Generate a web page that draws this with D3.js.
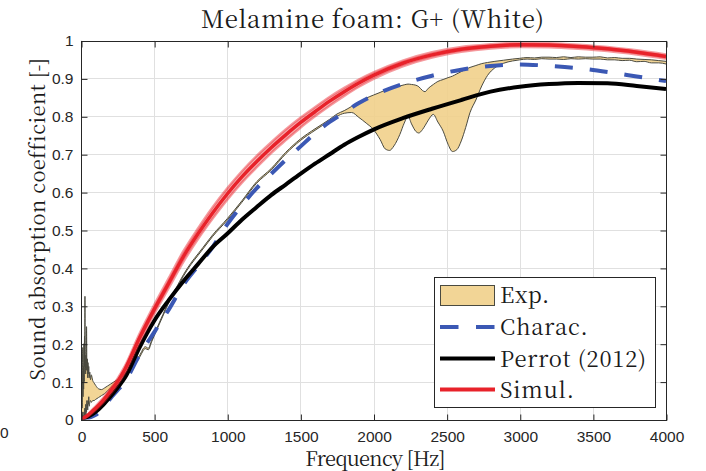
<!DOCTYPE html>
<html>
<head>
<meta charset="utf-8">
<script src="https://cdn.jsdelivr.net/npm/d3@7"></script>
<style>
  html, body { margin: 0; padding: 0; background: #fff; }
  svg { display: block; }
</style>
</head>
<body>
<svg id="chart" width="706" height="471"></svg>
<script>
// ---- Tick values and labels ----
const xTicks = [0, 500, 1000, 1500, 2000, 2500, 3000, 3500, 4000];
const xTickLabels = ["0", "500", "1000", "1500", "2000", "2500", "3000", "3500", "4000"];
const yTicks = [0, 0.1, 0.2, 0.3, 0.4, 0.5, 0.6, 0.7, 0.8, 0.9, 1];
const yTickLabels = ["0", "0.1", "0.2", "0.3", "0.4", "0.5", "0.6", "0.7", "0.8", "0.9", "1"];

// ---- Model curves (frequency grid in Hz) ----
const modelFreq = [0, 50, 100, 150, 200, 250, 300, 400, 500, 600, 700, 800, 900, 1000, 1100, 1200, 1300, 1400, 1500, 1600, 1700, 1800, 1900, 2000, 2200, 2400, 2600, 2800, 3000, 3200, 3400, 3600, 3800, 4000];
const charac = [0, 0.004, 0.012, 0.03, 0.055, 0.077, 0.1, 0.17, 0.23, 0.29, 0.355, 0.405, 0.455, 0.515, 0.565, 0.61, 0.648, 0.685, 0.72, 0.755, 0.785, 0.81, 0.835, 0.855, 0.885, 0.907, 0.923, 0.933, 0.937, 0.933, 0.927, 0.917, 0.905, 0.893];
const perrot = [0, 0.008, 0.02, 0.038, 0.06, 0.084, 0.11, 0.19, 0.26, 0.315, 0.365, 0.41, 0.455, 0.49, 0.527, 0.56, 0.592, 0.62, 0.648, 0.675, 0.7, 0.725, 0.746, 0.765, 0.795, 0.82, 0.843, 0.865, 0.878, 0.885, 0.888, 0.887, 0.88, 0.872];
const simulMid = [0, 0.012, 0.03, 0.05, 0.074, 0.1, 0.132, 0.215, 0.29, 0.36, 0.43, 0.49, 0.545, 0.595, 0.64, 0.68, 0.717, 0.751, 0.783, 0.812, 0.84, 0.865, 0.888, 0.908, 0.94, 0.962, 0.977, 0.985, 0.989, 0.988, 0.984, 0.978, 0.969, 0.958];
const simulLow = [0, 0.009, 0.025, 0.044, 0.067, 0.092, 0.123, 0.204, 0.278, 0.347, 0.416, 0.476, 0.53, 0.58, 0.625, 0.665, 0.703, 0.737, 0.77, 0.8, 0.828, 0.854, 0.878, 0.899, 0.932, 0.955, 0.97, 0.979, 0.983, 0.982, 0.978, 0.972, 0.963, 0.952];
const simulHigh = [0, 0.015, 0.035, 0.056, 0.081, 0.108, 0.141, 0.226, 0.302, 0.373, 0.444, 0.504, 0.56, 0.61, 0.655, 0.695, 0.731, 0.765, 0.796, 0.824, 0.851, 0.875, 0.897, 0.916, 0.947, 0.969, 0.983, 0.99, 0.994, 0.993, 0.989, 0.983, 0.974, 0.963];

// ---- Measured envelope (Exp.) ----
const expFreq = [0, 4, 6, 8, 10, 12, 14, 16, 18, 20, 22, 24, 26, 27, 28, 30, 32, 34, 36, 38, 40, 42, 44, 46, 48, 50, 53, 56, 60, 65, 70, 80, 90, 100, 120, 140, 160, 180, 200, 220, 240, 260, 280, 300, 350, 400, 440, 460, 483, 520, 560, 600, 650, 700, 750, 800, 834, 900, 1000, 1100, 1200, 1300, 1400, 1500, 1600, 1700, 1750, 1800, 1850, 1900, 1950, 2000, 2045, 2080, 2110, 2140, 2180, 2210, 2236, 2260, 2290, 2310, 2335, 2352, 2375, 2409, 2440, 2476, 2510, 2540, 2570, 2600, 2630, 2660, 2700, 2740, 2780, 2830, 2890, 2950, 3000, 3050, 3100, 3150, 3200, 3250, 3300, 3350, 3400, 3450, 3500, 3550, 3600, 3650, 3700, 3750, 3800, 3850, 3900, 3950, 4000];
const expHigh = [0, 0.04, 0.12, 0.03, 0.15, 0.19, 0.06, 0.14, 0.08, 0.2, 0.1, 0.22, 0.14, 0.325, 0.2, 0.16, 0.12, 0.17, 0.13, 0.245, 0.15, 0.13, 0.16, 0.11, 0.15, 0.12, 0.14, 0.11, 0.125, 0.105, 0.118, 0.103, 0.096, 0.09, 0.081, 0.079, 0.083, 0.088, 0.093, 0.098, 0.103, 0.108, 0.114, 0.121, 0.142, 0.169, 0.192, 0.188, 0.209, 0.242, 0.277, 0.312, 0.347, 0.382, 0.412, 0.437, 0.454, 0.487, 0.53, 0.577, 0.627, 0.662, 0.705, 0.74, 0.767, 0.792, 0.806, 0.815, 0.826, 0.838, 0.848, 0.856, 0.863, 0.869, 0.873, 0.876, 0.88, 0.883, 0.885, 0.884, 0.882, 0.878, 0.868, 0.865, 0.874, 0.884, 0.892, 0.897, 0.902, 0.906, 0.912, 0.918, 0.924, 0.929, 0.934, 0.939, 0.942, 0.945, 0.948, 0.951, 0.953, 0.955, 0.954, 0.956, 0.956, 0.955, 0.957, 0.955, 0.957, 0.956, 0.956, 0.957, 0.954, 0.955, 0.953, 0.953, 0.951, 0.950, 0.949, 0.947, 0.945];
const expLow = [0, 0, 0.01, 0, 0.02, 0.005, 0, 0.01, 0, 0.02, 0, 0.01, 0.03, 0.005, 0.01, 0.02, 0.04, 0.01, 0.03, 0.02, 0.05, 0.03, 0.04, 0.025, 0.05, 0.04, 0.06, 0.035, 0.045, 0.05, 0.045, 0.05, 0.05, 0.053, 0.058, 0.063, 0.068, 0.075, 0.082, 0.09, 0.097, 0.104, 0.111, 0.118, 0.138, 0.164, 0.187, 0.184, 0.205, 0.238, 0.273, 0.308, 0.343, 0.378, 0.408, 0.433, 0.45, 0.483, 0.526, 0.573, 0.623, 0.658, 0.701, 0.736, 0.763, 0.788, 0.8, 0.808, 0.81, 0.797, 0.782, 0.765, 0.739, 0.714, 0.71, 0.722, 0.752, 0.782, 0.8, 0.78, 0.76, 0.756, 0.765, 0.775, 0.79, 0.805, 0.785, 0.761, 0.726, 0.707, 0.712, 0.735, 0.77, 0.81, 0.843, 0.88, 0.908, 0.928, 0.94, 0.946, 0.949, 0.951, 0.95, 0.952, 0.951, 0.951, 0.95, 0.952, 0.951, 0.952, 0.951, 0.951, 0.949, 0.949, 0.947, 0.948, 0.944, 0.945, 0.941, 0.941, 0.938];

// ---- Text ----
const titleText = "Melamine foam: G+ (White)";
const xLabelText = "Frequency [Hz]";
const yLabelText = "Sound absorption coefficient [-]";
const legendLabels = ["Exp.", "Charac.", "Perrot (2012)", "Simul."];

// ---- Styles ----
const serif = '"Noto Serif CJK SC", "Liberation Serif", serif';
const sans = '"Liberation Sans", Arial, sans-serif';
const goldFill = "#f0cf88";
const expEdge = "#4a4a40";
const blue = "#3b58b4";
const red = "#e8222a";

const svg = d3.select("#chart");
const x = d3.scaleLinear().domain([0, 4000]).range([81, 666]);
const y = d3.scaleLinear().domain([0, 1]).range([419.5, 40.5]);

// stretch letter spacing so a label spans a given width
function fitWidth(sel, target) {
  const node = sel.node();
  const n = sel.text().length;
  const w = node.getComputedTextLength();
  sel.style("letter-spacing", ((target - w) / Math.max(1, n - 1)).toFixed(2) + "px");
}

// grid
const grid = svg.append("g").attr("stroke", "#e0e0e0").attr("stroke-width", 1);
grid.selectAll("line.gx").data(xTicks).join("line")
  .attr("x1", d => Math.round(x(d)) + 0.5).attr("x2", d => Math.round(x(d)) + 0.5)
  .attr("y1", y(0)).attr("y2", y(1));
grid.selectAll("line.gy").data(yTicks).join("line")
  .attr("y1", d => Math.round(y(d)) + 0.5).attr("y2", d => Math.round(y(d)) + 0.5)
  .attr("x1", x(0)).attr("x2", x(4000));

const plot = svg.append("g");
plot.append("clipPath").attr("id", "clip").append("rect")
  .attr("x", x(0)).attr("y", y(1) - 4).attr("width", x(4000) - x(0)).attr("height", y(0) - y(1) + 4);
const layer = plot.append("g").attr("clip-path", "url(#clip)");

// Exp. envelope
const expIdx = d3.range(expFreq.length);
const expArea = d3.area().curve(d3.curveMonotoneX)
  .x(i => x(expFreq[i])).y0(i => y(expLow[i])).y1(i => y(expHigh[i]));
layer.append("path").datum(expIdx).attr("d", expArea)
  .attr("fill", goldFill).attr("fill-opacity", 0.88).attr("stroke", "none");
const expLineHi = d3.line().curve(d3.curveMonotoneX).x(i => x(expFreq[i])).y(i => y(expHigh[i]));
const expLineLo = d3.line().curve(d3.curveMonotoneX).x(i => x(expFreq[i])).y(i => y(expLow[i]));
layer.append("path").datum(expIdx).attr("d", expLineHi)
  .attr("fill", "none").attr("stroke", expEdge).attr("stroke-width", 1);
layer.append("path").datum(expIdx).attr("d", expLineLo)
  .attr("fill", "none").attr("stroke", expEdge).attr("stroke-width", 1);

// model curves
const modelIdx = d3.range(modelFreq.length);
const lineOf = arr => d3.line().curve(d3.curveMonotoneX).x(i => x(modelFreq[i])).y(i => y(arr[i]));

layer.append("path").datum(modelIdx).attr("d", lineOf(charac))
  .attr("fill", "none").attr("stroke", blue).attr("stroke-width", 4)
  .attr("stroke-dasharray", "18 17");
layer.append("path").datum(modelIdx).attr("d", lineOf(perrot))
  .attr("fill", "none").attr("stroke", "#000").attr("stroke-width", 4);

// Simul. ensemble band
const simArea = d3.area().curve(d3.curveMonotoneX)
  .x(i => x(modelFreq[i])).y0(i => y(simulLow[i])).y1(i => y(simulHigh[i]));
layer.append("path").datum(modelIdx).attr("d", simArea)
  .attr("fill", red).attr("fill-opacity", 0.35);
[simulLow, simulHigh].forEach(arr => {
  layer.append("path").datum(modelIdx).attr("d", lineOf(arr))
    .attr("fill", "none").attr("stroke", red).attr("stroke-opacity", 0.45).attr("stroke-width", 2.5);
});
layer.append("path").datum(modelIdx).attr("d", lineOf(simulMid))
  .attr("fill", "none").attr("stroke", red).attr("stroke-width", 3.5);

// axes box
const axisColor = "#262626";
svg.append("rect")
  .attr("x", x(0) + 0.5).attr("y", Math.round(y(1)) + 0.5)
  .attr("width", x(4000) - x(0)).attr("height", Math.round(y(0)) - Math.round(y(1)))
  .attr("fill", "none").attr("stroke", axisColor).attr("stroke-width", 1);

function styleAxis(g) {
  g.select(".domain").remove();
  g.selectAll(".tick line").attr("stroke", axisColor);
  g.selectAll(".tick text").attr("fill", "#262626").style("font-family", sans).style("font-size", "15.5px");
}
svg.append("g").attr("transform", `translate(0.5,${Math.round(y(0)) + 0.5})`)
  .call(d3.axisBottom(x).tickValues(xTicks).tickFormat((d, i) => xTickLabels[i]).tickSizeInner(-6).tickPadding(10))
  .call(styleAxis);
svg.append("g").attr("transform", `translate(0.5,${Math.round(y(1)) + 0.5})`)
  .call(d3.axisTop(x).tickValues(xTicks).tickFormat("").tickSizeInner(-6))
  .call(styleAxis);
svg.append("g").attr("transform", `translate(${x(0) + 0.5},0.5)`)
  .call(d3.axisLeft(y).tickValues(yTicks).tickFormat((d, i) => yTickLabels[i]).tickSizeInner(-6).tickPadding(8))
  .call(styleAxis);
svg.append("g").attr("transform", `translate(${x(4000) + 0.5},0.5)`)
  .call(d3.axisRight(y).tickValues(yTicks).tickFormat("").tickSizeInner(-6))
  .call(styleAxis);

// tick label of the neighbouring panel at the left edge
svg.append("text").attr("x", 0).attr("y", 438).text("0")
  .style("font-family", sans).style("font-size", "15.5px").attr("fill", "#262626");

// title and axis labels
const title = svg.append("text").attr("x", 373).attr("y", 28).attr("text-anchor", "middle")
  .style("font-family", serif).style("font-size", "24px").attr("fill", "#1a1a1a").text(titleText);
fitWidth(title, 343);
const xl = svg.append("text").attr("x", 375).attr("y", 466).attr("text-anchor", "middle")
  .style("font-family", serif).style("font-size", "20px").attr("fill", "#1a1a1a").text(xLabelText);
fitWidth(xl, 140);
const yl = svg.append("text").attr("transform", "translate(45,219) rotate(-90)").attr("text-anchor", "middle")
  .style("font-family", serif).style("font-size", "20px").attr("fill", "#1a1a1a").text(yLabelText);
fitWidth(yl, 320);

// legend
const lg = svg.append("g");
lg.append("rect").attr("x", 434.5).attr("y", 277.5).attr("width", 221).attr("height", 130)
  .attr("fill", "#fff").attr("stroke", "#262626").attr("stroke-width", 1);
const rowY = [295, 327, 358.5, 389.5];
lg.append("rect").attr("x", 440.5).attr("y", 285.5).attr("width", 54).attr("height", 20)
  .attr("fill", goldFill).attr("fill-opacity", 0.88).attr("stroke", expEdge).attr("stroke-width", 1);
lg.append("line").attr("x1", 440).attr("x2", 495).attr("y1", rowY[1]).attr("y2", rowY[1])
  .attr("stroke", blue).attr("stroke-width", 4).attr("stroke-dasharray", "18.5 17.5");
lg.append("line").attr("x1", 440).attr("x2", 495).attr("y1", rowY[2]).attr("y2", rowY[2])
  .attr("stroke", "#000").attr("stroke-width", 4);
lg.append("line").attr("x1", 440).attr("x2", 495).attr("y1", rowY[3]).attr("y2", rowY[3])
  .attr("stroke", red).attr("stroke-width", 4);
const lt = lg.selectAll("text.leg").data(legendLabels).join("text")
  .attr("x", 500).attr("y", (d, i) => rowY[i] + 8)
  .style("font-family", serif).style("font-size", "22px").attr("fill", "#1a1a1a").text(d => d);
const perrotText = lt.filter((d, i) => i === 2);
const w0 = perrotText.node().getComputedTextLength();
const ls = ((146 - w0) / (legendLabels[2].length - 1)).toFixed(2);
lt.style("letter-spacing", ls + "px");
</script>
</body>
</html>
